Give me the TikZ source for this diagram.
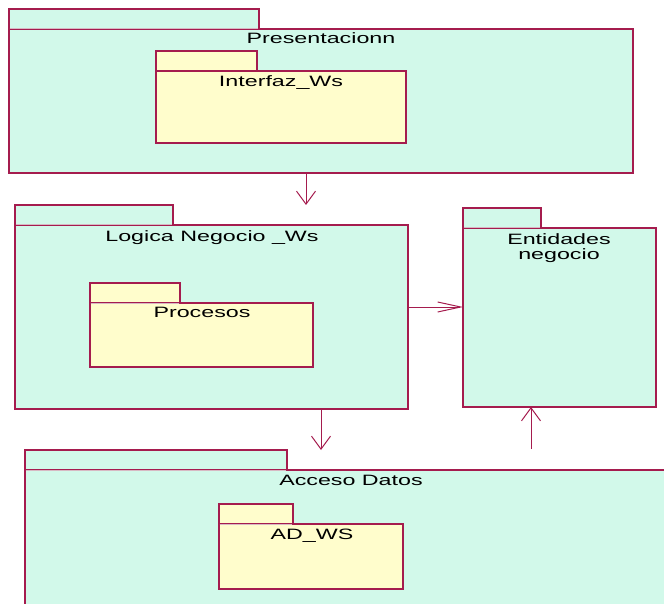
\documentclass[tikz,border=0pt]{standalone}
\usepackage{fontspec}
\setmainfont{Liberation Sans}[FakeStretch=1.55]
\usetikzlibrary{arrows.meta}
\definecolor{pkgline}{RGB}{165,28,78}
\definecolor{pkgsep}{RGB}{215,185,195}
\definecolor{mint}{RGB}{210,249,234}
\definecolor{cream}{RGB}{255,253,204}
\tikzset{
  outerpkg/.style={draw=pkgline, fill=mint, line width=1.2pt, inner sep=0pt, outer sep=0pt, anchor=north west},
  innerpkg/.style={draw=pkgline, fill=cream, line width=1.2pt, inner sep=0pt, outer sep=0pt, anchor=north west},
  pkgtitle/.style={font=\fontsize{15}{15.5}\selectfont, anchor=base, inner sep=0pt, align=center},
  sepline/.style={draw=pkgsep, line width=1pt, shorten <=0.7pt, shorten >=0.7pt},
  dep/.style={draw=pkgline, line width=1pt},
  vhead/.style={-{Straight Barb[length=13pt,width=19pt]}},
  hhead/.style={-{Straight Barb[length=23pt,width=10pt]}},
}
\begin{document}
\begin{tikzpicture}[x=1pt, y=-1pt]
\useasboundingbox (0,0) rectangle (664,604);
\clip (0,0) rectangle (664,604);

% Presentacionn
\node[outerpkg, minimum width=250pt, minimum height=20pt] (pres-tab) at (9,9) {};
\node[outerpkg, minimum width=624pt, minimum height=144pt] (pres) at (9,29) {};
\draw[sepline] (pres-tab.south west) -- (pres-tab.south east);
\node[pkgtitle] (pres-t) at (321,44) {Presentacionn};

% Interfaz_Ws
\node[innerpkg, minimum width=101pt, minimum height=20pt] (intf-tab) at (156,51) {};
\node[innerpkg, minimum width=250pt, minimum height=72pt] (intf) at (156,71) {};
\node[pkgtitle] (intf-t) at (281,87) {Interfaz\_Ws};

% Logica Negocio _Ws
\node[outerpkg, minimum width=158pt, minimum height=20pt] (logica-tab) at (15,205) {};
\node[outerpkg, minimum width=393pt, minimum height=184pt] (logica) at (15,225) {};
\draw[sepline] (logica-tab.south west) -- (logica-tab.south east);
\node[pkgtitle] (logica-t) at (212,241) {Logica Negocio \_Ws};

% Procesos
\node[innerpkg, minimum width=90pt, minimum height=20pt] (proc-tab) at (90,283) {};
\node[innerpkg, minimum width=223pt, minimum height=64pt] (proc) at (90,303) {};
\draw[sepline] (proc-tab.south west) -- (proc-tab.south east);
\node[pkgtitle] (proc-t) at (202,317) {Procesos};

% Entidades negocio
\node[outerpkg, minimum width=78pt, minimum height=20pt] (ent-tab) at (463,208) {};
\node[outerpkg, minimum width=193pt, minimum height=179pt] (ent) at (463,228) {};
\draw[sepline] (ent-tab.south west) -- (ent-tab.south east);
\node[pkgtitle, anchor=north] (ent-t) at (559,233) {Entidades\\negocio};

% Acceso Datos
\node[outerpkg, minimum width=262pt, minimum height=20pt] (acc-tab) at (25,450) {};
\node[outerpkg, minimum width=700pt, minimum height=200pt] (acc) at (25,470) {};
\draw[sepline] (acc-tab.south west) -- (acc-tab.south east);
\node[pkgtitle] (acc-t) at (351,485) {Acceso Datos};

% AD_WS
\node[innerpkg, minimum width=74pt, minimum height=20pt] (adws-tab) at (219,504) {};
\node[innerpkg, minimum width=184pt, minimum height=65pt] (adws) at (219,524) {};
\draw[sepline] (adws-tab.south west) -- (adws-tab.south east);
\node[pkgtitle] (adws-t) at (312,539) {AD\_WS};

% dependencies
\coordinate (d1) at (306,205);
\coordinate (d2) at (463,307);
\coordinate (d3) at (321,450);
\coordinate (d4) at (531,449);
\draw[dep, vhead] (pres.south -| d1) -- (d1);
\draw[dep, hhead] (logica.east |- d2) -- (ent.west |- d2);
\draw[dep, vhead] (logica.south -| d3) -- (d3);
\draw[dep, vhead] (d4) -- (ent.south -| d4);
\end{tikzpicture}
\end{document}
